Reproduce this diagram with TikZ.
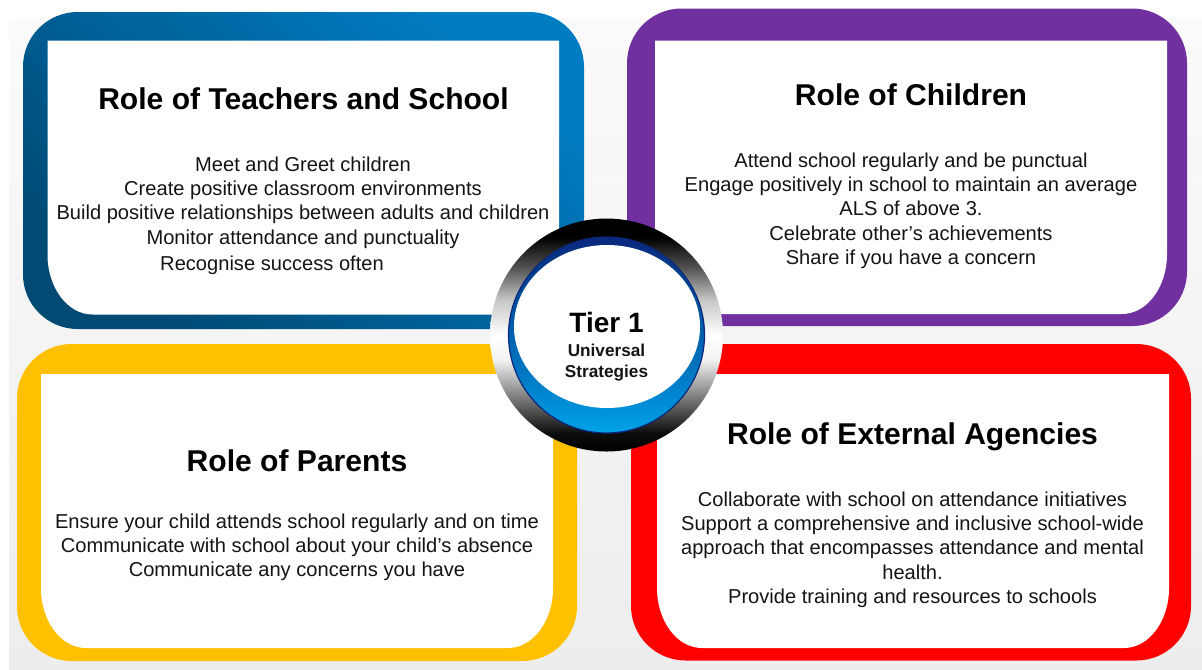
\documentclass[tikz,border=0pt]{standalone}
\usepackage{fontspec}
\setmainfont{Liberation Sans}
\definecolor{bluedark}{HTML}{004A74}
\definecolor{bluelight}{HTML}{007CC3}
\definecolor{purplerole}{HTML}{7030A0}
\definecolor{yellowrole}{HTML}{FFC000}
\definecolor{redrole}{HTML}{FF0000}
\definecolor{bgtop}{HTML}{FBFBFB}
\definecolor{bgbottom}{HTML}{EDEDED}
\definecolor{discbottom}{HTML}{00A3E8}
\definecolor{discmidlow}{HTML}{0078C3}
\definecolor{discmidhigh}{HTML}{004B96}
\definecolor{disctop}{HTML}{0A287D}
\pgfdeclareverticalshading{ringshade}{100bp}{
 color(0bp)=(black); color(25bp)=(black); color(29bp)=(black!95); color(36bp)=(black!55);
 color(44.7bp)=(black!5); color(50bp)=(white); color(57.5bp)=(black!22);
 color(64.5bp)=(black!68); color(71bp)=(black); color(100bp)=(black)}
\pgfdeclareverticalshading{discshade}{100bp}{
 color(0bp)=(discbottom); color(25bp)=(discbottom);
 color(40bp)=(discmidlow); color(60bp)=(discmidhigh);
 color(75bp)=(disctop); color(100bp)=(disctop)}
\tikzset{
 x=0.75pt,y=-0.75pt,
 titletext/.style={font=\fontsize{22.55pt}{27pt}\selectfont\bfseries,inner sep=0pt,text=black,anchor=base},
 bodytext/.style={font=\fontsize{15.08pt}{18.2pt}\selectfont,inner sep=0pt,align=center,text=black!92,anchor=north},
 outerpanel/.style={rounded corners=41pt},
 innerpanel/.style={fill=white},
}
% x1 y1 x2 y2 : white panel, square on top and rounded below
\newcommand{\whitepanel}[4]{%
 \fill[innerpanel] (#1,#2) -- (#3,#2) -- (#3,#4-60)
  .. controls (#3,#4-27) and (#3-20,#4) .. (#3-45,#4)
  -- (#1+45,#4)
  .. controls (#1+20,#4) and (#1,#4-27) .. (#1,#4-60) -- cycle;}
\begin{document}
\begin{tikzpicture}
\useasboundingbox (0,0) rectangle (1202,669);
\fill[white] (0,0) rectangle (1202,669);
\shade[top color=bgtop,bottom color=bgbottom] (9,18) rectangle (1202,669);

\shade[outerpanel,top color=bluelight,bottom color=bluedark,shading angle=-40] (23,12) rectangle (584,329);
\whitepanel{47.5}{40.5}{559}{314.5}
\fill[outerpanel,purplerole] (627,8.5) rectangle (1187,326);
\whitepanel{655}{40.5}{1167}{314}
\fill[outerpanel,yellowrole] (17,344) rectangle (577,661);
\whitepanel{41}{374}{553}{648}
\fill[outerpanel,redrole] (631,344) rectangle (1191,660.5);
\whitepanel{657}{374}{1169}{648}

\node[titletext] (teachers) at (303.5,109.3) {Role of Teachers and School};
\node[bodytext] (teachersbody) at (303,156.5) {Meet and Greet children\\Create positive classroom environments\\Build positive relationships between adults and children\\Monitor attendance and punctuality};
\node[bodytext] (teacherslast) at (272,256) {Recognise success often};

\node[titletext] (children) at (911,105.3) {Role of Children};
\node[bodytext] (childrenbody) at (911,152.5) {Attend school regularly and be punctual\\Engage positively in school to maintain an average\\ALS of above 3.\\Celebrate other’s achievements\\Share if you have a concern};

\node[titletext] (parents) at (297,471.3) {Role of Parents};
\node[bodytext] (parentsbody) at (297,513.5) {Ensure your child attends school regularly and on time\\Communicate with school about your child’s absence\\Communicate any concerns you have};

\node[titletext] (agencies) at (912.5,444.3) {Role of External Agencies};
\node[bodytext] (agenciesbody) at (912.5,491.5) {Collaborate with school on attendance initiatives\\Support a comprehensive and inclusive school-wide\\approach that encompasses attendance and mental\\health.\\Provide training and resources to schools};

\shade[shading=ringshade] (606.5,335) circle[radius=116.5];
\shade[shading=discshade,draw=disctop,line width=0.9pt] (606.5,335) circle[radius=98];
\fill[white] (607,326.5) ellipse[x radius=93,y radius=81.5];

\node[font=\fontsize{21pt}{24pt}\selectfont\bfseries,inner sep=0pt] (tier) at (606.5,322) {Tier 1};
\node[font=\fontsize{12.9pt}{15.75pt}\selectfont\bfseries,inner sep=0pt,align=center,text=black!92] (universal) at (606.5,362.5) {Universal\\Strategies};
\end{tikzpicture}
\end{document}
